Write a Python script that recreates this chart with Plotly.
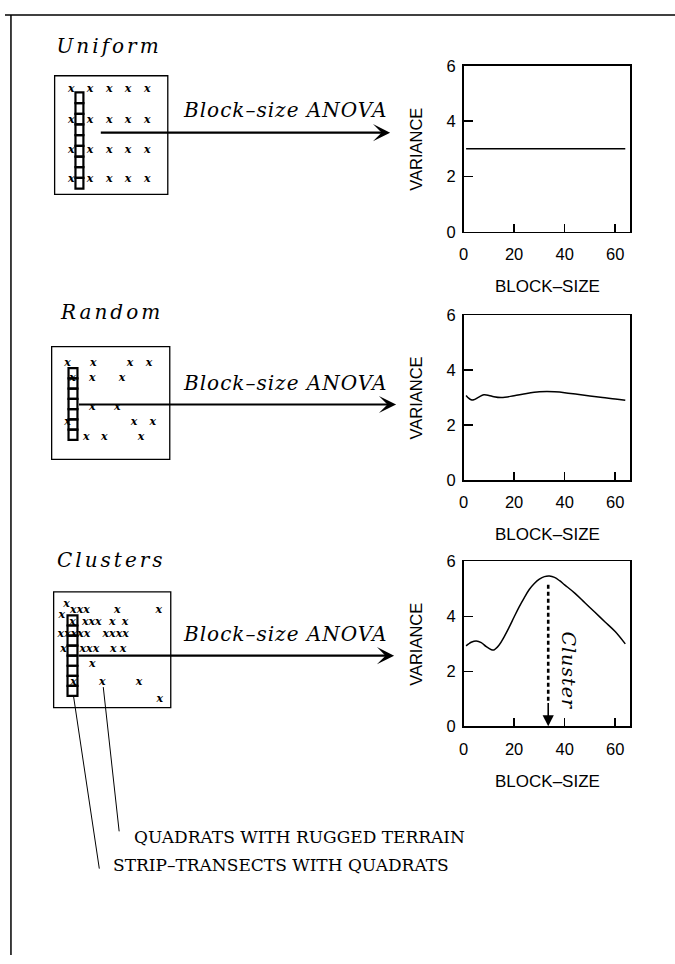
import plotly.graph_objects as go

# ---------------- chart data ----------------
block_unif = [1, 8, 16, 24, 32, 40, 48, 56, 64]
var_unif = [3.0, 3.0, 3.0, 3.0, 3.0, 3.0, 3.0, 3.0, 3.0]

block_rand = [1, 2, 3, 4, 6, 8, 10, 12, 15, 20, 25, 30, 33, 36, 40, 45, 50, 55, 60, 64]
var_rand = [3.08, 2.98, 2.92, 2.92, 3.02, 3.10, 3.08, 3.03, 3.00, 3.07, 3.15, 3.21, 3.22,
            3.21, 3.18, 3.12, 3.06, 3.00, 2.95, 2.90]

block_clus = [1, 2, 3, 5, 7, 9, 11, 12, 14, 16, 18, 20, 22, 24, 26, 28, 30, 32, 34, 36,
              38, 40, 44, 48, 52, 56, 60, 64]
var_clus = [2.93, 3.00, 3.06, 3.11, 3.05, 2.90, 2.79, 2.78, 2.95, 3.25, 3.60, 3.98, 4.35,
            4.68, 4.98, 5.20, 5.36, 5.45, 5.47, 5.42, 5.30, 5.15, 4.85, 4.50, 4.15, 3.80,
            3.45, 3.00]

cluster_block = 33.5      # dotted arrow position (block size)
cluster_top = 5.15        # where the dotted arrow starts

x_ticks = [0, 20, 40, 60]
y_ticks = [0, 2, 4, 6]

panel_titles = ["Uniform", "Random", "Clusters"]
arrow_label = "Block–size ANOVA"
note_quadrats = "QUADRATS WITH RUGGED TERRAIN"
note_strips = "STRIP–TRANSECTS WITH QUADRATS"

# ---------------- schematic data (page coordinates) ----------------
unif_cols = [66.7, 85.7, 105, 124, 143.3]
unif_rows = [82, 113, 144, 173]

rand_x = [63, 89, 126, 145, 68, 88, 118, 88, 113, 63, 130, 149, 82, 100, 137]
rand_y = [361, 361, 361, 361, 376, 376, 376, 406, 406, 421, 421, 421, 436, 436, 436]

clus_x = [62, 75.5, 113, 155, 57.3, 68, 87.5, 108, 121, 69.5, 111.5, 59, 85, 109, 119,
          88, 69, 98, 135, 156]
clus_y = [607, 613, 613, 613, 618, 625, 625, 625, 625, 637, 637, 652, 652, 652, 652,
          668, 686, 686, 686, 703]
clus_txt = ["x", "xxx", "x", "x", "x", "x", "xxx", "x", "x", "xxxxx", "xxxx", "x", "xxx",
            "x", "x", "x", "x", "x", "x", "x"]

W, H = 675, 964
PLOT_X0, PLOT_X1 = 462, 630
chart_rows = [(58, 227), (312, 480), (563, 731)]      # top/bottom of each chart
boxes = [(50, 68, 164, 189), (47, 344, 166, 459), (49, 594, 167, 712)]
strips = [(71, 79, 85, 183, 9), (64, 73, 366, 439, 7), (63, 73, 618, 700, 8)]
title_pos = [(105, 38), (107, 309), (107, 561)]
arrows = [(95, 388, 126, 103), (73, 394, 403, 381), (73, 392, 659, 637)]

BLACK = "black"
serif_it = dict(family="DejaVu Serif", style="italic", color=BLACK)
sans = dict(family="Liberation Sans", color=BLACK)

fig = go.Figure()

# ---------------- curves ----------------
curves = [(block_unif, var_unif), (block_rand, var_rand), (block_clus, var_clus)]
for i, (bx, by) in enumerate(curves):
    sfx = "" if i == 0 else str(i + 1)
    fig.add_trace(go.Scatter(x=bx, y=by, mode="lines", line=dict(color=BLACK, width=1.5),
                             line_shape="spline", xaxis="x" + sfx, yaxis="y" + sfx,
                             hoverinfo="skip", showlegend=False))

# dotted cluster arrow shaft
fig.add_trace(go.Scatter(x=[cluster_block, cluster_block], y=[cluster_top, 0.9], mode="lines",
                         line=dict(color=BLACK, width=2.6, dash="4px,3px"),
                         xaxis="x3", yaxis="y3", hoverinfo="skip", showlegend=False))

# ---------------- quadrat markers ----------------
ux = [c for r in unif_rows for c in unif_cols]
uy = [r for r in unif_rows for c in unif_cols]
marker_sets = [(ux, uy, ["x"] * len(ux)), (rand_x, rand_y, ["x"] * len(rand_x)),
               (clus_x, clus_y, clus_txt)]
for mx, my, mt in marker_sets:
    fig.add_trace(go.Scatter(x=mx, y=my, text=mt, mode="text", textposition="middle center",
                             textfont=dict(family="DejaVu Serif", style="italic", weight="bold",
                                           size=11, color=BLACK),
                             xaxis="x4", yaxis="y4", hoverinfo="skip", showlegend=False))

# ---------------- axes ----------------
layout_axes = {}
for i, (top, bot) in enumerate(chart_rows):
    n = i + 1
    sfx = "" if n == 1 else str(n)
    xa = dict(domain=[PLOT_X0 / W, PLOT_X1 / W], range=[0, 66], anchor="y" + sfx,
              tickvals=x_ticks, ticktext=[str(v) for v in x_ticks], ticks="inside",
              ticklen=8, tickwidth=1.5, tickcolor=BLACK, showline=True, linecolor=BLACK,
              linewidth=1.6, mirror=True, showgrid=False, zeroline=False,
              tickfont=dict(size=16.5, **sans), ticklabelstandoff=7, fixedrange=True)
    ya = dict(domain=[1 - bot / H, 1 - top / H], range=[0, 6], anchor="x" + sfx,
              tickvals=y_ticks, ticktext=[str(v) for v in y_ticks], ticks="inside",
              ticklen=9, tickwidth=1.5, tickcolor=BLACK, showline=True, linecolor=BLACK,
              linewidth=1.6, mirror=True, showgrid=False, zeroline=False,
              tickfont=dict(size=16.5, **sans), ticklabelstandoff=3, fixedrange=True)
    layout_axes["xaxis" + sfx] = xa
    layout_axes["yaxis" + sfx] = ya
layout_axes["xaxis4"] = dict(domain=[0, 1], range=[0, W], visible=False, anchor="y4",
                             fixedrange=True)
layout_axes["yaxis4"] = dict(domain=[0, 1], range=[H, 0], visible=False, anchor="x4",
                             fixedrange=True)

# ---------------- shapes ----------------
shapes = []
P = dict(xref="x4", yref="y4")
# page frame (top and left edges)
shapes.append(dict(type="line", x0=0, x1=W, y0=6, y1=6, line=dict(color=BLACK, width=1.5), **P))
shapes.append(dict(type="line", x0=6, x1=6, y0=6, y1=H, line=dict(color=BLACK, width=1.5), **P))
for (x0, y0, x1, y1) in boxes:
    shapes.append(dict(type="rect", x0=x0, x1=x1, y0=y0, y1=y1,
                       line=dict(color=BLACK, width=1.3), **P))
for (sx0, sx1, sy0, sy1, nc) in strips:
    h = (sy1 - sy0) / nc
    for k in range(nc):
        shapes.append(dict(type="rect", x0=sx0, x1=sx1, y0=sy0 + k * h, y1=sy0 + (k + 1) * h,
                           line=dict(color=BLACK, width=2.2), **P))
# leader lines to the notes
shapes.append(dict(type="line", x0=69, y0=700, x1=95, y1=876, line=dict(color=BLACK, width=1), **P))
shapes.append(dict(type="line", x0=99, y0=691, x1=115, y1=838, line=dict(color=BLACK, width=1), **P))

# ---------------- annotations ----------------
ann = []
for (tx, ty), t in zip(title_pos, panel_titles):
    ann.append(dict(x=tx, y=ty, text=t, showarrow=False, xanchor="center", yanchor="middle",
                    font=dict(size=20, **serif_it), **P))
for (ax0, ax1, ay, ty) in arrows:
    ann.append(dict(x=ax1, y=ay, ax=ax0, ay=ay, axref="x4", ayref="y4", text="",
                    showarrow=True, arrowhead=3, arrowsize=1.3, arrowwidth=2.2,
                    arrowcolor=BLACK, standoff=0, startstandoff=0, **P))
    ann.append(dict(x=282, y=ty, text=arrow_label, showarrow=False, xanchor="center",
                    yanchor="middle", font=dict(size=20, **serif_it), **P))
for (top, bot) in chart_rows:
    ann.append(dict(x=414, y=(top + bot) / 2, text="VARIANCE", textangle=-90, showarrow=False,
                    xanchor="center", yanchor="middle", font=dict(size=16.5, **sans), **P))
    ann.append(dict(x=547, y=bot + 56, text="BLOCK–SIZE", showarrow=False, xanchor="center",
                    yanchor="middle", font=dict(size=17, **sans), **P))
# cluster arrow head and label
ann.append(dict(x=cluster_block, y=0, ax=cluster_block, ay=0.9, xref="x3", yref="y3",
                axref="x3", ayref="y3", text="", showarrow=True, arrowhead=2, arrowsize=1.4,
                arrowwidth=1.6, arrowcolor=BLACK, standoff=0))
ann.append(dict(x=41.5, y=2.0, xref="x3", yref="y3", text="Cluster", textangle=90,
                showarrow=False, xanchor="center", yanchor="middle",
                font=dict(size=19, **serif_it)))
ann.append(dict(x=128, y=844, text=note_quadrats, showarrow=False, xanchor="left",
                yanchor="middle", font=dict(family="DejaVu Serif", size=17, color=BLACK), **P))
ann.append(dict(x=107, y=872, text=note_strips, showarrow=False, xanchor="left",
                yanchor="middle", font=dict(family="DejaVu Serif", size=17, color=BLACK), **P))

fig.update_layout(width=W, height=H, margin=dict(l=0, r=0, t=0, b=0),
                  paper_bgcolor="white", plot_bgcolor="rgba(0,0,0,0)", showlegend=False,
                  shapes=shapes, annotations=ann, **layout_axes)

page_css = ("var s=document.documentElement.style;s.margin='0';s.padding='0';s.overflow='hidden';"
            "var b=document.body.style;b.margin='0';b.padding='0';b.overflow='hidden';"
            "document.querySelectorAll('.annotation-text').forEach(function(t){"
            "var c=t.textContent;"
            "if(c==='Uniform'||c==='Random'||c==='Clusters'){t.style.letterSpacing='3px';}"
            "else if(c==='Block–size ANOVA'||c==='Cluster'){t.style.letterSpacing='1px';}"
            "});")

fig.write_html("out.html", config={"displayModeBar": False, "staticPlot": True},
               post_script=page_css)
